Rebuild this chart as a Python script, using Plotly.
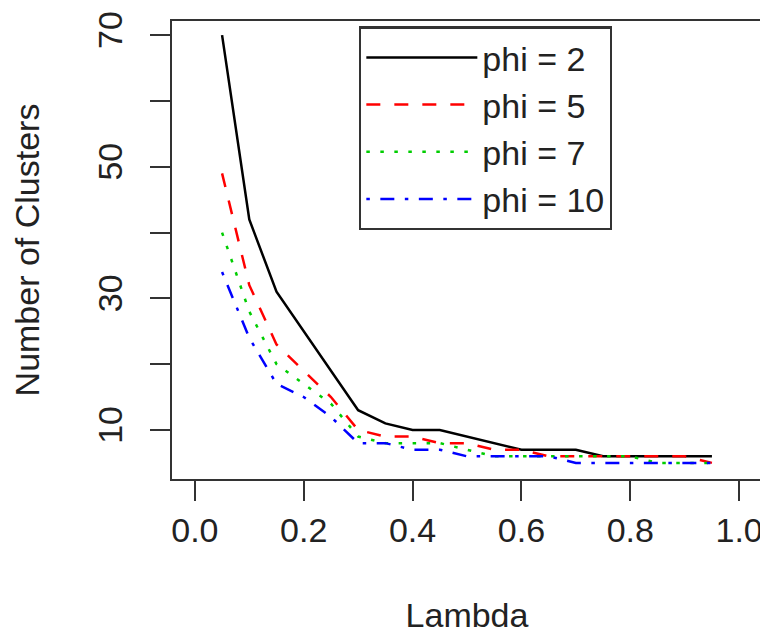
import plotly.graph_objects as go

lambda_vals = [0.05, 0.10, 0.15, 0.20, 0.25, 0.30, 0.35, 0.40, 0.45, 0.50,
               0.55, 0.60, 0.65, 0.70, 0.75, 0.80, 0.85, 0.90, 0.95]
phi2 = [70, 42, 31, 25, 19, 13, 11, 10, 10, 9, 8, 7, 7, 7, 6, 6, 6, 6, 6]
phi5 = [49, 32, 23, 19, 15, 10, 9, 9, 8, 8, 7, 7, 6, 6, 6, 6, 6, 6, 5]
phi7 = [40, 28, 20, 17, 14, 9, 8, 8, 8, 7, 6, 6, 6, 6, 6, 6, 5, 5, 5]
phi10 = [34, 24, 17, 15, 12, 8, 8, 7, 7, 6, 6, 6, 6, 5, 5, 5, 5, 5, 5]

series_names = ["phi = 2", "phi = 5", "phi = 7", "phi = 10"]
series_vals = [phi2, phi5, phi7, phi10]
series_colors = ["#000000", "#FF0000", "#00CD00", "#0000FF"]
series_dash = ["solid", "14px,14px", "3.5px,10.5px", "3.5px,10.5px,14px,10.5px"]

x_ticks = [0.0, 0.2, 0.4, 0.6, 0.8, 1.0]
x_ticktext = ["0.0", "0.2", "0.4", "0.6", "0.8", "1.0"]
y_ticks = [10, 20, 30, 40, 50, 60, 70]
y_ticktext = ["10", "", "30", "", "50", "", "70"]

fig = go.Figure()
for name, vals, col, dash in zip(series_names, series_vals, series_colors, series_dash):
    fig.add_trace(go.Scatter(x=lambda_vals, y=vals, mode="lines", name=name,
                             line=dict(color=col, width=2.5, dash=dash)))

axis_col = "#333333"
txt_col = "#222222"
fsize = 34
# page body has an 8px margin, so the figure is 8px smaller and margins shifted
fig.update_layout(
    width=760, height=626,
    margin=dict(l=164, r=6, t=3, b=155),
    plot_bgcolor="white", paper_bgcolor="white",
    font=dict(family="Liberation Sans, Arial, sans-serif", size=fsize, color=txt_col),
    showlegend=True,
    legend=dict(x=0.317, y=0.988, xanchor="left", yanchor="top",
                bordercolor=axis_col, borderwidth=2.3, bgcolor="white",
                itemwidth=111, font=dict(size=fsize)),
)
fig.update_xaxes(range=[-0.042, 1.042], tickvals=x_ticks, ticktext=x_ticktext,
                 ticks="outside", ticklen=20, tickwidth=2, tickcolor=axis_col,
                 tickfont=dict(size=fsize), ticklabeloverflow="allow",
                 showline=True, mirror=True, linewidth=2.3, linecolor=axis_col,
                 showgrid=False, zeroline=False,
                 title=dict(text="Lambda", standoff=57, font=dict(size=fsize)))
fig.update_yaxes(range=[2.55, 72.15], tickvals=y_ticks, ticktext=y_ticktext,
                 tickangle=-90, ticklabelstandoff=14, ticklabeloverflow="allow",
                 tickfont=dict(size=fsize),
                 ticks="outside", ticklen=20, tickwidth=2, tickcolor=axis_col,
                 showline=True, mirror=True, linewidth=2.3, linecolor=axis_col,
                 showgrid=False, zeroline=False,
                 title=dict(text="Number of Clusters", standoff=51, font=dict(size=fsize)))
fig.write_html("out.html")
